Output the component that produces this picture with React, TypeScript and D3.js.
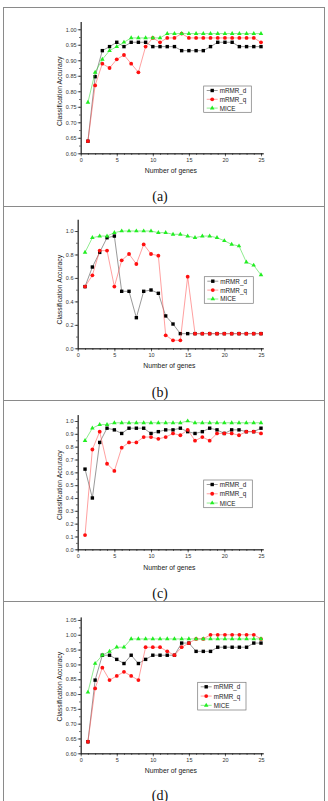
import * as d3 from "d3";
import React, { useRef, useEffect } from "react";

// number of selected genes (x values, same for every panel)
const genes = [1, 2, 3, 4, 5, 6, 7, 8, 9, 10, 11, 12, 13, 14, 15, 16, 17, 18, 19, 20, 21, 22, 23, 24, 25];
const xTicks = [0, 5, 10, 15, 20, 25];

// panel (a)
const aMrmrD = [0.639, 0.847, 0.931, 0.944, 0.958, 0.944, 0.958, 0.958, 0.958, 0.944, 0.944, 0.944, 0.944, 0.931, 0.931, 0.931, 0.931, 0.944, 0.958, 0.958, 0.958, 0.944, 0.944, 0.944, 0.944];
const aMrmrQ = [0.639, 0.819, 0.889, 0.875, 0.903, 0.917, 0.889, 0.861, 0.944, 0.972, 0.958, 0.972, 0.972, 0.986, 0.972, 0.972, 0.972, 0.972, 0.972, 0.972, 0.972, 0.972, 0.972, 0.972, 0.958];
const aMice = [0.764, 0.861, 0.903, 0.931, 0.944, 0.958, 0.972, 0.972, 0.972, 0.972, 0.972, 0.986, 0.986, 0.986, 0.986, 0.986, 0.986, 0.986, 0.986, 0.986, 0.986, 0.986, 0.986, 0.986, 0.986];
const aTicks = [0.6, 0.65, 0.7, 0.75, 0.8, 0.85, 0.9, 0.95, 1.0];

// panel (b)
const bMrmrD = [0.526, 0.693, 0.818, 0.943, 0.957, 0.486, 0.486, 0.261, 0.486, 0.497, 0.469, 0.276, 0.207, 0.125, 0.125, 0.125, 0.125, 0.125, 0.125, 0.125, 0.125, 0.125, 0.125, 0.125, 0.125];
const bMrmrQ = [0.526, 0.622, 0.833, 0.833, 0.526, 0.75, 0.804, 0.719, 0.886, 0.804, 0.79, 0.111, 0.068, 0.068, 0.611, 0.125, 0.125, 0.125, 0.125, 0.125, 0.125, 0.125, 0.125, 0.125, 0.125];
const bMice = [0.818, 0.943, 0.957, 0.957, 0.986, 1.0, 1.0, 1.0, 1.0, 1.0, 0.986, 0.986, 0.972, 0.972, 0.957, 0.943, 0.957, 0.957, 0.943, 0.917, 0.886, 0.872, 0.735, 0.708, 0.625];
const bTicks = [0, 0.2, 0.4, 0.6, 0.8, 1.0];

// panel (c)
const cMrmrD = [0.625, 0.4, 0.833, 0.944, 0.931, 0.903, 0.944, 0.944, 0.944, 0.903, 0.917, 0.931, 0.931, 0.944, 0.917, 0.903, 0.917, 0.944, 0.931, 0.903, 0.931, 0.931, 0.917, 0.917, 0.944];
const cMrmrQ = [0.111, 0.778, 0.917, 0.667, 0.611, 0.792, 0.833, 0.833, 0.875, 0.875, 0.861, 0.875, 0.903, 0.889, 0.931, 0.847, 0.875, 0.847, 0.903, 0.903, 0.903, 0.889, 0.917, 0.917, 0.903];
const cMice = [0.847, 0.944, 0.972, 0.972, 0.986, 0.986, 0.986, 0.986, 0.986, 0.986, 0.986, 0.986, 0.986, 0.986, 1.0, 0.986, 0.986, 0.986, 0.986, 0.986, 0.986, 0.986, 0.986, 0.986, 0.986];
const cTicks = [0, 0.1, 0.2, 0.3, 0.4, 0.5, 0.6, 0.7, 0.8, 0.9, 1.0];

// panel (d)
const dMrmrD = [0.639, 0.847, 0.931, 0.931, 0.917, 0.903, 0.931, 0.903, 0.917, 0.931, 0.931, 0.931, 0.931, 0.972, 0.972, 0.944, 0.944, 0.944, 0.958, 0.958, 0.958, 0.958, 0.958, 0.972, 0.972];
const dMrmrQ = [0.639, 0.819, 0.889, 0.847, 0.861, 0.875, 0.861, 0.847, 0.958, 0.958, 0.958, 0.944, 0.931, 0.958, 0.972, 0.986, 0.986, 1.0, 1.0, 1.0, 1.0, 1.0, 1.0, 1.0, 0.986];
const dMice = [0.806, 0.903, 0.931, 0.944, 0.958, 0.958, 0.986, 0.986, 0.986, 0.986, 0.986, 0.986, 0.986, 0.986, 0.986, 0.986, 0.986, 0.986, 0.986, 0.986, 0.986, 0.986, 0.986, 0.986, 0.986];
const dTicks = [0.6, 0.65, 0.7, 0.75, 0.8, 0.85, 0.9, 0.95, 1.0, 1.05];

const seriesNames = ["mRMR_d", "mRMR_q", "MICE"];
const seriesColors = ["#000000", "#ff1010", "#22ee22"];
const lineColors = ["#444444", "#ff5050", "#33dd33"];

const FONT = "'Liberation Sans', Arial, sans-serif";

const panels = [
  {
    caption: "(a)", series: [aMrmrD, aMrmrQ, aMice], ticks: aTicks, minorStep: 0.025, fmt: ".2f",
    left: 80.7, yDomain: [0.6, 1.025], yRange: [153.3, 21.5], xLabelY: 170.7, captionY: 200.5,
    legend: { x: 203.7, y: 86, w: 47.6, h: 26.3 },
  },
  {
    caption: "(b)", series: [bMrmrD, bMrmrQ, bMice], ticks: bTicks, minorStep: 0.1, fmt: ".1f",
    left: 77.7, yDomain: [0, 1.1], yRange: [348.3, 219.3], xLabelY: 365.7, captionY: 396.5,
    legend: { x: 204.3, y: 276.7, w: 49, h: 26.6 },
  },
  {
    caption: "(c)", series: [cMrmrD, cMrmrQ, cMice], ticks: cTicks, minorStep: 0.05, fmt: ".1f",
    left: 77.7, yDomain: [0, 1.05], yRange: [549.3, 414.6], xLabelY: 567.3, captionY: 597.5,
    legend: { x: 203.7, y: 480, w: 48.6, h: 27.7 },
  },
  {
    caption: "(d)", series: [dMrmrD, dMrmrQ, dMice], ticks: dTicks, minorStep: 0.025, fmt: ".2f",
    left: 80.7, yDomain: [0.6, 1.06], yRange: [753.3, 617], xLabelY: 770, captionY: 799.5,
    legend: { x: 197.7, y: 682.3, w: 48.3, h: 27.7 },
  },
];

function marker(sel, kind, color) {
  if (kind === 0) {
    sel.append("rect").attr("x", -1.7).attr("y", -1.7).attr("width", 3.4).attr("height", 3.4).attr("fill", color);
  } else if (kind === 1) {
    sel.append("circle").attr("r", 1.9).attr("fill", color);
  } else {
    sel.append("path").attr("d", d3.symbol(d3.symbolTriangle, 9)()).attr("fill", color);
  }
}

function styleAxis(g) {
  g.select(".domain").attr("stroke", "#222").attr("stroke-width", 0.8);
  g.selectAll(".tick line").attr("stroke", "#222").attr("stroke-width", 0.7);
  g.selectAll(".tick text").attr("fill", "#333").attr("font-size", 5.5).attr("font-family", FONT);
}

function App() {
  const ref = useRef(null);

  useEffect(() => {
    const svg = d3.select(ref.current);
    svg.selectAll("*").remove();

    // frame around the figure and separators between the sub-figures
    svg.append("rect").attr("x", 3.5).attr("y", 7.5).attr("width", 321).attr("height", 800)
      .attr("fill", "none").attr("stroke", "#8a8a8a").attr("stroke-width", 1);
    [206.5, 400.5, 601.5].forEach((yy) => {
      svg.append("line").attr("x1", 3.5).attr("x2", 324.5).attr("y1", yy).attr("y2", yy)
        .attr("stroke", "#8a8a8a").attr("stroke-width", 1);
    });

    panels.forEach((p) => {
      const g = svg.append("g");
      const x = d3.scaleLinear().domain([0, 25.3]).range([p.left, p.left + ((261 - p.left) * 25.3) / 25]);
      const y = d3.scaleLinear().domain(p.yDomain).range(p.yRange);
      const bottom = p.yRange[0];

      // minor ticks
      const minorX = d3.range(0, 26, 1);
      const minorY = d3.range(p.yDomain[0], p.ticks[p.ticks.length - 1] + 1e-6, p.minorStep);
      g.append("g").attr("transform", `translate(0,${bottom})`)
        .call(d3.axisBottom(x).tickValues(minorX).tickSize(1.6).tickSizeOuter(0).tickFormat(() => ""))
        .call(styleAxis);
      g.append("g").attr("transform", `translate(${p.left},0)`)
        .call(d3.axisLeft(y).tickValues(minorY).tickSize(1.6).tickSizeOuter(0).tickFormat(() => ""))
        .call(styleAxis);

      // major ticks with labels
      g.append("g").attr("transform", `translate(0,${bottom})`)
        .call(d3.axisBottom(x).tickValues(xTicks).tickSize(3).tickPadding(1.6).tickSizeOuter(0).tickFormat(d3.format("d")))
        .call(styleAxis);
      g.append("g").attr("transform", `translate(${p.left},0)`)
        .call(d3.axisLeft(y).tickValues(p.ticks).tickSize(3).tickPadding(1.2).tickSizeOuter(0).tickFormat(d3.format(p.fmt)))
        .call(styleAxis);

      // axis titles
      g.append("text").attr("x", p.left + (261 - p.left) / 2).attr("y", p.xLabelY)
        .attr("text-anchor", "middle").attr("dominant-baseline", "central")
        .attr("font-family", FONT).attr("font-size", 6.8).attr("fill", "#222").text("Number of genes");
      const yMid = (bottom + y(p.ticks[p.ticks.length - 1])) / 2;
      g.append("text").attr("transform", `translate(59,${yMid}) rotate(-90)`)
        .attr("text-anchor", "middle").attr("dominant-baseline", "central")
        .attr("font-family", FONT).attr("font-size", 6.8).attr("fill", "#222").text("Classification Accuracy");

      // series: thin connecting line + markers
      const line = d3.line().x((d) => x(d[0])).y((d) => y(d[1]));
      p.series.forEach((vals, si) => {
        const pts = genes.map((gn, i) => [gn, vals[i]]);
        g.append("path").attr("d", line(pts)).attr("fill", "none")
          .attr("stroke", lineColors[si]).attr("stroke-width", 0.55);
        const m = g.append("g").selectAll("g").data(pts).enter().append("g")
          .attr("transform", (d) => `translate(${x(d[0])},${y(d[1])})`);
        m.each(function () { marker(d3.select(this), si, seriesColors[si]); });
      });

      // legend
      const L = p.legend;
      const lg = g.append("g").attr("transform", `translate(${L.x},${L.y})`);
      lg.append("rect").attr("width", L.w).attr("height", L.h).attr("fill", "#fff")
        .attr("stroke", "#777").attr("stroke-width", 0.7);
      seriesNames.forEach((name, si) => {
        const ly = 4.5 + si * 8.8 * (L.h / 26.3);
        lg.append("line").attr("x1", 3).attr("x2", 14).attr("y1", ly).attr("y2", ly)
          .attr("stroke", lineColors[si]).attr("stroke-width", 0.55);
        const mk = lg.append("g").attr("transform", `translate(8.5,${ly})`);
        marker(mk, si, seriesColors[si]);
        lg.append("text").attr("x", 16).attr("y", ly).attr("dominant-baseline", "central")
          .attr("font-family", FONT).attr("font-size", 6.3).attr("fill", "#222").text(name);
      });

      // sub-figure caption
      g.append("text").attr("x", 160).attr("y", p.captionY).attr("text-anchor", "middle")
        .attr("font-family", "'Liberation Serif', 'Times New Roman', serif").attr("font-size", 14)
        .attr("fill", "#111").text(p.caption);
    });
  }, []);

  return (
    <div style={{ position: "absolute", left: 0, top: 0 }}>
      <svg ref={ref} width={328} height={801} style={{ display: "block", background: "#fff" }}></svg>
    </div>
  );
}

export default App;
